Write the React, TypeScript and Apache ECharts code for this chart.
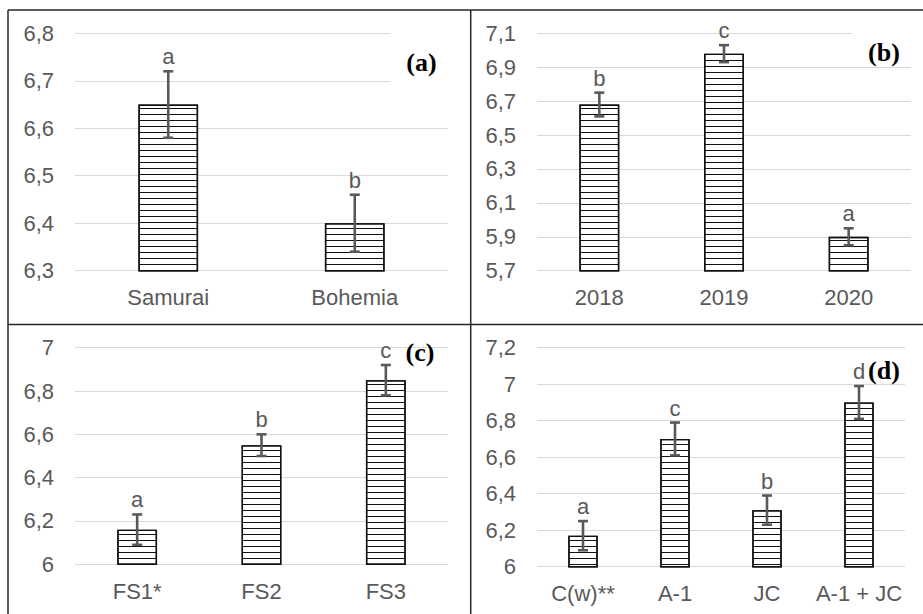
import React, { useEffect, useRef } from "react";
import * as echarts from "echarts";

const catsA = ["Samurai", "Bohemia"];
const meansA = [6.65, 6.4];
const errA = [0.07, 0.06];
const lettersA = ["a", "b"];
const yTicksA = [6.3, 6.4, 6.5, 6.6, 6.7, 6.8];

const catsB = ["2018", "2019", "2020"];
const meansB = [6.68, 6.98, 5.9];
const errB = [0.07, 0.05, 0.05];
const lettersB = ["b", "c", "a"];
const yTicksB = [5.7, 5.9, 6.1, 6.3, 6.5, 6.7, 6.9, 7.1];

const catsC = ["FS1*", "FS2", "FS3"];
const meansC = [6.16, 6.55, 6.85];
const errC = [0.07, 0.05, 0.07];
const lettersC = ["a", "b", "c"];
const yTicksC = [6, 6.2, 6.4, 6.6, 6.8, 7];

const catsD = ["C(w)**", "A-1", "JC", "A-1 + JC"];
const meansD = [6.17, 6.7, 6.31, 6.9];
const errD = [0.08, 0.09, 0.08, 0.09];
const lettersD = ["a", "c", "b", "d"];
const yTicksD = [6, 6.2, 6.4, 6.6, 6.8, 7, 7.2];

const panelTitles = ["(a)", "(b)", "(c)", "(d)"];

const TXT = "#595959";
const FONT = "Liberation Sans, Arial, sans-serif";
const FS = 22;

const panels = [
  { cats: catsA, means: meansA, err: errA, letters: lettersA, ticks: yTicksA },
  { cats: catsB, means: meansB, err: errB, letters: lettersB, ticks: yTicksB },
  { cats: catsC, means: meansC, err: errC, letters: lettersC, ticks: yTicksC },
  { cats: catsD, means: meansD, err: errD, letters: lettersD, ticks: yTicksD },
];

const fmt = (v: number) => String(Math.round(v * 10) / 10).replace(".", ",");

export default function App() {
  const ref = useRef<HTMLDivElement>(null);
  useEffect(() => {
    if (!ref.current) return;
    const chart = echarts.init(ref.current, null, { renderer: "svg" });
    const grids = [
      { left: 75, right: 475, top: 33.3, bottom: 343.3 },
      { left: 537, right: 12, top: 33.3, bottom: 343.3 },
      { left: 75, right: 475, top: 347.7, bottom: 49.7 },
      { left: 537, right: 18, top: 347.7, bottom: 47.3 },
    ];
    const xAxis = panels.map((p, i) => ({
      type: "category",
      gridIndex: i,
      data: p.cats,
      axisLine: { show: false },
      axisTick: { show: false },
      axisLabel: { color: TXT, fontSize: FS, fontFamily: FONT, margin: 16, interval: 0 },
    }));
    const yAxis = panels.map((p, i) => ({
      type: "value",
      gridIndex: i,
      min: p.ticks[0],
      max: p.ticks[p.ticks.length - 1],
      axisLine: { show: false },
      axisTick: { show: false, customValues: p.ticks },
      axisLabel: {
        color: TXT,
        fontSize: FS,
        fontFamily: FONT,
        margin: 21,
        customValues: p.ticks,
        formatter: (v: number) => fmt(v),
      },
      splitLine: { show: true, lineStyle: { color: "#d9d9d9", width: 1.2 } },
    }));
    const series: any[] = [];
    panels.forEach((p, i) => {
      series.push({
        type: "bar",
        xAxisIndex: i,
        yAxisIndex: i,
        data: p.means,
        barWidth: "32%",
        itemStyle: {
          color: "#ffffff",
          borderColor: "#111",
          borderWidth: 1.4,
          decal: {
            symbol: "rect",
            symbolSize: 1,
            dashArrayX: [1, 0],
            dashArrayY: [1, 5],
            rotation: 0,
            color: "#111",
          },
        },
        z: 2,
      });
      series.push({
        type: "custom",
        xAxisIndex: i,
        yAxisIndex: i,
        z: 5,
        data: p.means.map((m, k) => [k, m - p.err[k], m + p.err[k]]),
        renderItem: (params: any, api: any) => {
          const x = api.value(0);
          const lo = api.coord([x, api.value(1)]);
          const hi = api.coord([x, api.value(2)]);
          const st = { stroke: "#595959", lineWidth: 2.6 };
          const cap = 5;
          return {
            type: "group",
            children: [
              { type: "line", shape: { x1: hi[0], y1: hi[1], x2: lo[0], y2: lo[1] }, style: st },
              { type: "line", shape: { x1: hi[0] - cap, y1: hi[1], x2: hi[0] + cap, y2: hi[1] }, style: st },
              { type: "line", shape: { x1: lo[0] - cap, y1: lo[1], x2: lo[0] + cap, y2: lo[1] }, style: st },
              {
                type: "text",
                x: hi[0],
                y: hi[1] - 14.5,
                style: {
                  text: p.letters[params.dataIndex],
                  fill: TXT,
                  font: `${FS}px ${FONT}`,
                  align: "center",
                  verticalAlign: "middle",
                },
              },
            ],
          };
        },
      });
    });
    const lineStyle = { stroke: "#262626", lineWidth: 1.5 };
    const titleFont = "bold 26px 'Liberation Serif', 'Times New Roman', serif";
    const titlePos = [
      [421.5, 62],
      [884, 52],
      [420, 352.5],
      [884, 370.8],
    ];
    const graphic: any[] = [
      { type: "rect", z: 100, shape: { x: 390, y: 26, width: 60, height: 70 }, style: { fill: "#fff" } },
      { type: "rect", z: 100, shape: { x: 852.7, y: 26, width: 65, height: 36 }, style: { fill: "#fff" } },
      { type: "line", z: 110, shape: { x1: 8, y1: 10, x2: 923, y2: 10 }, style: lineStyle },
      { type: "line", z: 110, shape: { x1: 8, y1: 10, x2: 8, y2: 614 }, style: lineStyle },
      { type: "line", z: 110, shape: { x1: 470.7, y1: 10, x2: 470.7, y2: 614 }, style: lineStyle },
      { type: "line", z: 110, shape: { x1: 8, y1: 324.4, x2: 923, y2: 324.4 }, style: lineStyle },
      ...panelTitles.map((t, i) => ({
        type: "text",
        z: 120,
        x: titlePos[i][0],
        y: titlePos[i][1],
        style: { text: t, fill: "#000", font: titleFont, align: "center", verticalAlign: "middle" },
      })),
    ];
    chart.setOption({
      animation: false,
      backgroundColor: "#fff",
      grid: grids,
      xAxis,
      yAxis,
      series,
      graphic,
    });
    return () => chart.dispose();
  }, []);
  return (
    <div
      ref={ref}
      style={{ position: "fixed", left: 0, top: 0, width: 923, height: 614, background: "#fff" }}
    />
  );
}
